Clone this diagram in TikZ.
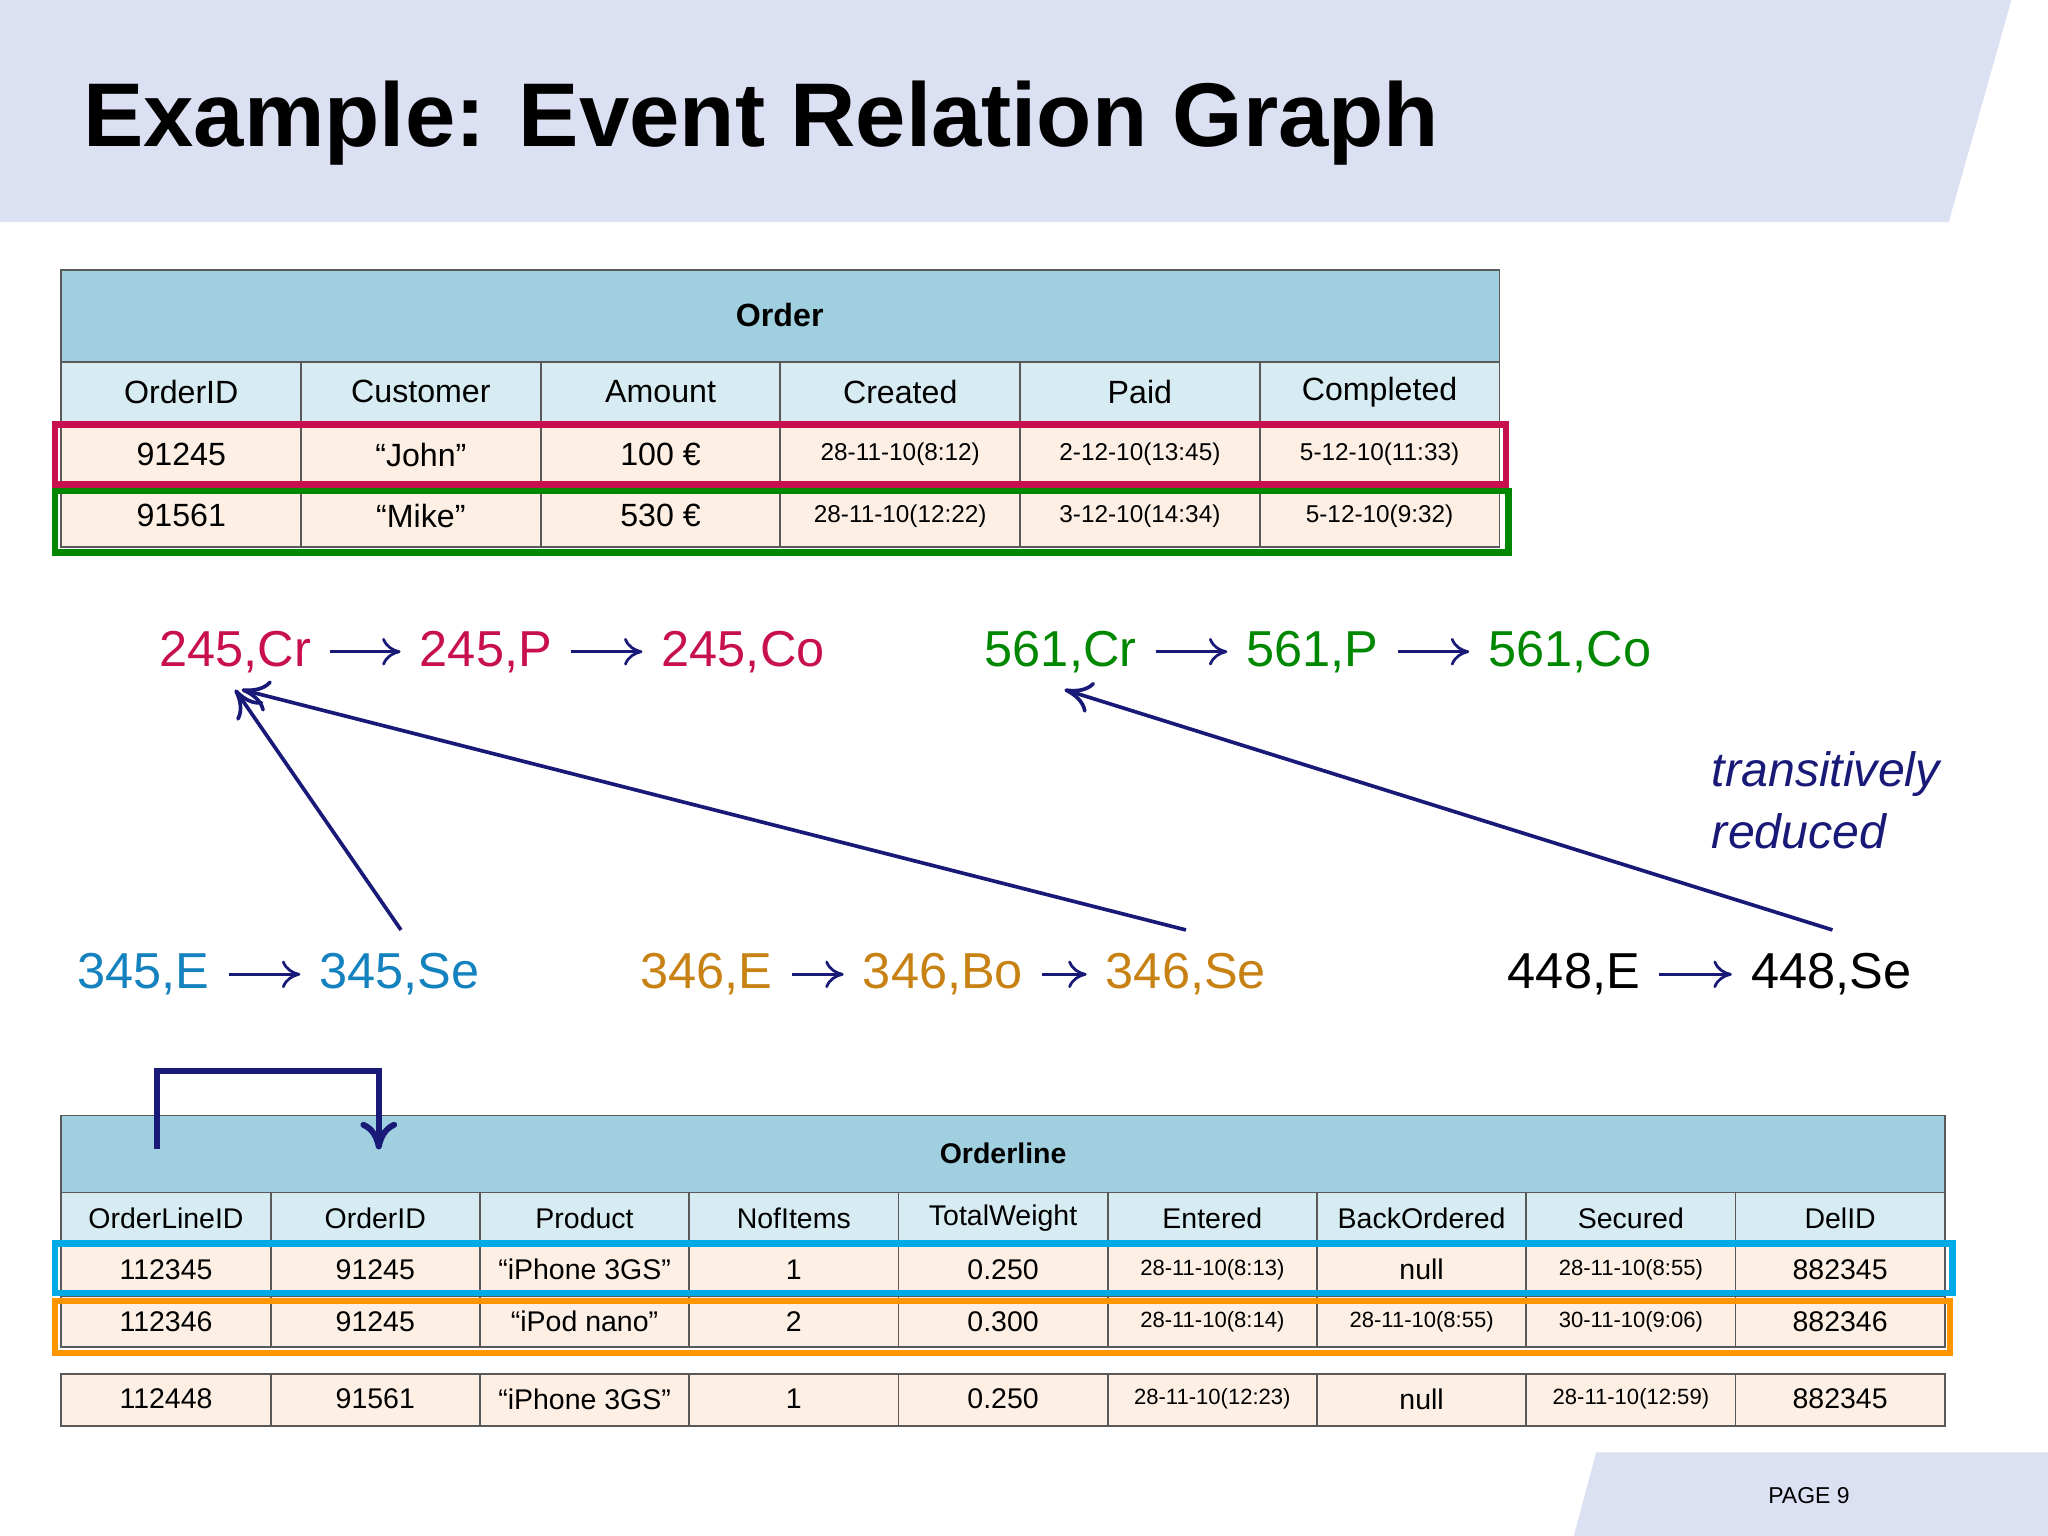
\documentclass[tikz,border=0pt]{standalone}
\usepackage{fontspec}
\setmainfont{Liberation Sans}
\usetikzlibrary{arrows.meta}
\definecolor{banner}{RGB}{220,224,243}
\definecolor{hdr}{RGB}{160,208,224}
\definecolor{colh}{RGB}{215,236,242}
\definecolor{rowc}{RGB}{253,239,228}
\definecolor{crim}{RGB}{200,16,80}
\definecolor{grn}{RGB}{0,135,0}
\definecolor{tl}{RGB}{20,130,190}
\definecolor{org}{RGB}{200,130,20}
\definecolor{navy}{RGB}{25,25,120}
\definecolor{cyanb}{RGB}{0,170,230}
\definecolor{orangeb}{RGB}{255,150,0}
\tikzset{
 cell/.style={draw=gray!70!black,line width=0.4pt},
 ev/.style={inner sep=1pt,font=\fontsize{11}{13}\selectfont,anchor=base},
 sa/.style={-{To[length=4pt,width=6pt]},navy,line width=0.6pt,shorten >=3pt,shorten <=3pt},
 la/.style={-{To[length=6pt,width=7pt]},navy,line width=0.8pt},
 t7/.style={font=\fontsize{7}{8}\selectfont},
 t5/.style={font=\fontsize{5.3}{6}\selectfont},
}
\begin{document}
\begin{tikzpicture}[x=0.01cm,y=-0.01cm]
\useasboundingbox (0,0) rectangle (1568,1176);
\fill[banner] (0,0)--(1540,0)--(1492,170)--(0,170)--cycle;
\node[anchor=base west,inner sep=0,font=\bfseries\fontsize{19.7}{22}\selectfont] (title) at (63,112) {Example: Event Relation Graph};
\fill[banner] (1222,1112)--(1568,1112)--(1568,1176)--(1205,1176)--cycle;
\node[font=\fontsize{5}{6}\selectfont] (page) at (1385,1145) {PAGE 9};
% Order table
\def\ow{183.5}
\draw[cell,fill=hdr] (47,207) rectangle (1148,277);
\node[t7,font=\bfseries\fontsize{7}{8}\selectfont] (ordert) at (597,241) {Order};
\foreach \i/\txt in {0/OrderID,1/Customer,2/Amount,3/Created,4/Paid,5/Completed}{
 \draw[cell,fill=colh] ({47+\i*\ow},277) rectangle ({47+(\i+1)*\ow},323);
 \node[t7] (oh\i) at ({47+(\i+0.5)*\ow},300) {\txt};}
\foreach \r/\y in {0/323,1/371}{
 \foreach \i in {0,...,5}{\draw[cell,fill=rowc] ({47+\i*\ow},\y) rectangle ({47+(\i+1)*\ow},\y+48);}}
\foreach \i/\txt/\s in {0/91245/t7,1/“John”/t7,2/100 €/t7,3/28-11-10(8:12)/t5,4/2-12-10(13:45)/t5,5/5-12-10(11:33)/t5}{
 \node[\s] (oa\i) at ({47+(\i+0.5)*\ow},348) {\txt};}
\foreach \i/\txt/\s in {0/91561/t7,1/“Mike”/t7,2/530 €/t7,3/28-11-10(12:22)/t5,4/3-12-10(14:34)/t5,5/5-12-10(9:32)/t5}{
 \node[\s] (ob\i) at ({47+(\i+0.5)*\ow},395) {\txt};}
\draw[crim,line width=1.4pt] (42,325) rectangle (1153,371);
\draw[grn,line width=1.4pt] (42,376) rectangle (1155,423);
% events
\node[ev,crim] (a1) at (180,510) {245,Cr};
\node[ev,crim] (a2) at (372,510) {245,P};
\node[ev,crim] (a3) at (569,510) {245,Co};
\node[ev,grn] (b1) at (812,510) {561,Cr};
\node[ev,grn] (b2) at (1005,510) {561,P};
\node[ev,grn] (b3) at (1202,510) {561,Co};
\node[ev,tl] (c1) at (110,757) {345,E};
\node[ev,tl] (c2) at (306,757) {345,Se};
\node[ev,org] (d1) at (541,757) {346,E};
\node[ev,org] (d2) at (722,757) {346,Bo};
\node[ev,org] (d3) at (908,757) {346,Se};
\node[ev] (e1) at (1205,757) {448,E};
\node[ev] (e2) at (1402,757) {448,Se};
\foreach \p/\q in {a1/a2,a2/a3,b1/b2,b2/b3,c1/c2,d1/d2,d2/d3,e1/e2}{\draw[sa] (\p) -- (\q);}
\coordinate (ta) at (180,528); \coordinate (ta2) at (185,528); \coordinate (tb) at (815,528);
\draw[la] (307,712) -- (ta);
\draw[la] (908,712) -- (ta2);
\draw[la] (1403,712) -- (tb);
\node[navy,anchor=base west,inner sep=0,align=left,font=\itshape\fontsize{10.5}{13.5}\selectfont] (tr) at (1310,650) {transitively\\reduced};
% Orderline
\def\lw{160.22}
\draw[cell,fill=hdr] (47,854) rectangle (1489,913);
\node[font=\bfseries\fontsize{6.2}{8}\selectfont] (olt) at (768,883) {Orderline};
\foreach \i/\txt in {0/OrderLineID,1/OrderID,2/Product,3/NofItems,4/TotalWeight,5/Entered,6/BackOrdered,7/Secured,8/DelID}{
 \draw[cell,fill=colh] ({47+\i*\lw},913) rectangle ({47+(\i+1)*\lw},953);
 \node[font=\fontsize{6.2}{8}\selectfont] (lh\i) at ({47+(\i+0.5)*\lw},933) {\txt};}
\foreach \y in {953,992,1052}{
 \foreach \i in {0,...,8}{\draw[cell,fill=rowc] ({47+\i*\lw},\y) rectangle ({47+(\i+1)*\lw},\y+39.5);}}
\tikzset{u/.style={font=\fontsize{6.2}{8}\selectfont},v/.style={font=\fontsize{4.8}{6}\selectfont}}
\foreach \i/\txt/\s in {0/112345/u,1/91245/u,2/“iPhone 3GS”/u,3/1/u,4/0.250/u,5/28-11-10(8:13)/v,6/null/u,7/28-11-10(8:55)/v,8/882345/u}{
 \node[\s] (la\i) at ({47+(\i+0.5)*\lw},972) {\txt};}
\foreach \i/\txt/\s in {0/112346/u,1/91245/u,2/“iPod nano”/u,3/2/u,4/0.300/u,5/28-11-10(8:14)/v,6/28-11-10(8:55)/v,7/30-11-10(9:06)/v,8/882346/u}{
 \node[\s] (lb\i) at ({47+(\i+0.5)*\lw},1012) {\txt};}
\foreach \i/\txt/\s in {0/112448/u,1/91561/u,2/“iPhone 3GS”/u,3/1/u,4/0.250/u,5/28-11-10(12:23)/v,6/null/u,7/28-11-10(12:59)/v,8/882345/u}{
 \node[\s] (lc\i) at ({47+(\i+0.5)*\lw},1071) {\txt};}
\draw[cyanb,line width=1.4pt] (42,952) rectangle (1495,990);
\draw[orangeb,line width=1.4pt] (42,996) rectangle (1493,1036);
\coordinate (bs) at (120,880); \coordinate (be) at (290,880);
\draw[navy,line width=1.3pt,-{To[length=6pt,width=8pt]}] (bs) -- (120,820) -- (290,820) -- (be);
\end{tikzpicture}
\end{document}
